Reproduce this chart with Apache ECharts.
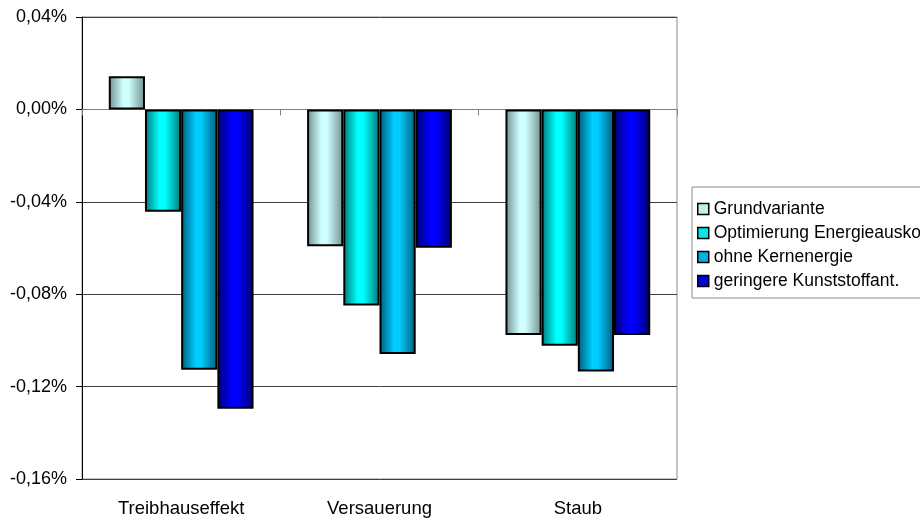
<!DOCTYPE html>
<html>
<head>
<meta charset="utf-8">
<script src="https://cdn.jsdelivr.net/npm/echarts@6/dist/echarts.min.js"></script>
<style>html,body{margin:0;padding:0;background:#fff}#c{width:920px;height:520px}</style>
</head>
<body>
<div id="c"></div>
<script>
const categories = ['Treibhauseffekt', 'Versauerung', 'Staub'];
const seriesNames = ['Grundvariante', 'Optimierung Energieauskopplung', 'ohne Kernenergie', 'geringere Kunststoffant.'];
const grundvariante = [0.0143, -0.0592, -0.0977];
const optimierung = [-0.0443, -0.0849, -0.1023];
const ohneKernenergie = [-0.1127, -0.1059, -0.1135];
const geringereKunststoff = [-0.1296, -0.0599, -0.0977];
const yTicks = { min: -0.16, max: 0.04, interval: 0.04 };

function grad(dark, light) {
  return new echarts.graphic.LinearGradient(0, 0, 1, 0, [
    { offset: 0, color: dark },
    { offset: 0.4, color: light },
    { offset: 0.55, color: light },
    { offset: 1, color: dark }
  ]);
}
const styles = [
  { fill: grad('#6f8f8f', '#d0ffff'), legend: '#c0f0f0' },
  { fill: grad('#007878', '#00ffff'), legend: '#00e8e8' },
  { fill: grad('#005a78', '#00ccff'), legend: '#00b0e0' },
  { fill: grad('#000070', '#0000ff'), legend: '#0000e0' }
];
const dataSets = [grundvariante, optimierung, ohneKernenergie, geringereKunststoff];

const chart = echarts.init(document.getElementById('c'), null, { renderer: 'canvas' });
chart.setOption({
  animation: false,
  textStyle: { fontFamily: 'Liberation Sans, Arial, sans-serif' },
  grid: { left: 82, right: 243, top: 17, bottom: 41, show: true, borderColor: '#8c8c8c', borderWidth: 1 },
  legend: {
    orient: 'vertical', left: 692, top: 187,
    itemWidth: 11, itemHeight: 11, itemGap: 6, itemTextGap: 6,
    borderColor: '#8c8c8c', borderWidth: 1, padding: [13, 4, 8, 5],
    textStyle: { fontSize: 17.5, color: '#000' },
    data: seriesNames.map((n, i) => ({ name: n, icon: 'rect', itemStyle: { color: styles[i].legend, borderColor: '#000', borderWidth: 1.5 } }))
  },
  xAxis: [
    {
      type: 'category', data: categories, position: 'bottom',
      axisLine: { show: false, onZero: false }, axisTick: { show: false },
      axisLabel: { fontSize: 18.5, color: '#000', margin: 20 }
    },
    {
      type: 'category', data: categories, position: 'bottom',
      axisLine: { show: true, onZero: true, lineStyle: { color: '#808080', width: 1 } },
      axisTick: { show: true, inside: false, length: 6, lineStyle: { color: '#808080' } },
      axisLabel: { show: false }
    }
  ],
  yAxis: {
    type: 'value', min: yTicks.min, max: yTicks.max, interval: yTicks.interval,
    axisLine: { show: true, lineStyle: { color: '#000' } },
    axisTick: { show: true, length: 6, lineStyle: { color: '#000' } },
    axisLabel: { fontSize: 18, color: '#000', margin: 15, formatter: v => v.toFixed(2).replace('.', ',') + '%' },
    splitLine: { show: true, lineStyle: { color: '#404040', width: 1 } }
  },
  series: dataSets.map((d, i) => ({
    name: seriesNames[i], type: 'bar', xAxisIndex: 0, data: d,
    barGap: '0%', barCategoryGap: '27%',
    itemStyle: { color: styles[i].fill, borderColor: '#000', borderWidth: 2 }
  }))
});
</script>
</body>
</html>
